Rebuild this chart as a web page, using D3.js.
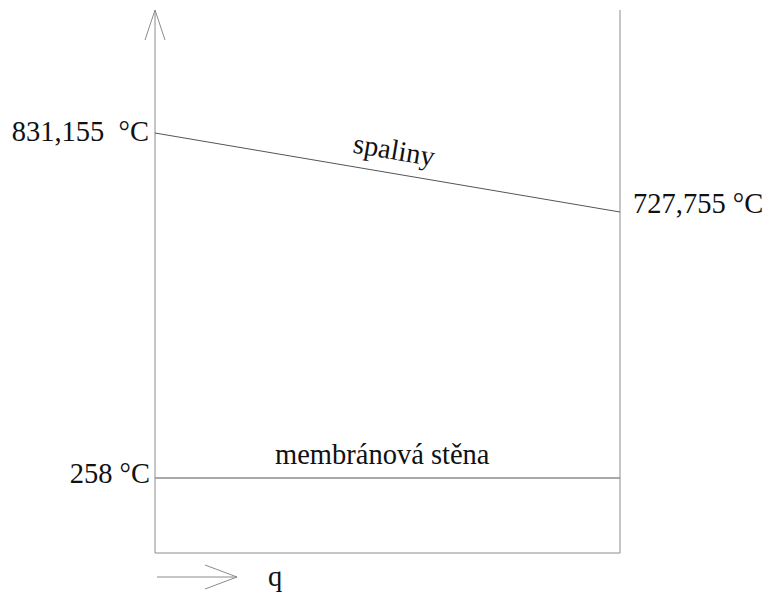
<!DOCTYPE html>
<html>
<head>
<meta charset="utf-8">
<script src="https://cdn.jsdelivr.net/npm/d3@7"></script>
<style>
  body { margin: 0; background: #fff; }
</style>
</head>
<body>
<div class="canvas"></div>
<script>
'use strict';

// temperatures along the heat flow q (0 = wall side, 1 = far side)
var flowPos = [0, 1];
var gasTemps = [831.155, 727.755];
var wallTemps = [258, 258];
var gasLabels = ['831,155\u00a0 °C', '727,755 °C'];
var wallLabel = '258 °C';
var seriesNames = ['spaliny', 'membránová stěna'];
var flowLabel = 'q';

var width = 769, height = 594;

var svg = d3.select('.canvas').append('svg')
  .attr('width', width)
  .attr('height', height);

// schematic (not proportional) temperature axis
var x = d3.scaleLinear().domain([0, 1]).range([155, 620]);
var y = d3.scaleLinear().domain([200, 258, 727.755, 831.155, 900]).range([553, 478, 212, 133, 10]);

var lineColor = '#8c8c8c';

function label(sel) {
  return sel
    .style('font-family', '"Liberation Serif"')
    .style('font-size', '28.5px')
    .style('fill', '#111');
}

// frame: left axis, right line, bottom line
svg.append('line')
  .attr('x1', x(0)).attr('y1', y(200))
  .attr('x2', x(0)).attr('y2', y(900))
  .style('stroke', lineColor);
svg.append('line')
  .attr('x1', x(1)).attr('y1', y(200))
  .attr('x2', x(1)).attr('y2', y(900))
  .style('stroke', lineColor);
svg.append('line')
  .attr('x1', x(0)).attr('y1', y(200))
  .attr('x2', x(1)).attr('y2', y(200))
  .style('stroke', lineColor);

// arrow head on the left axis
svg.append('path')
  .attr('d', 'M' + (x(0) - 10) + ',' + (y(900) + 30) + 'L' + x(0) + ',' + y(900) + 'L' + (x(0) + 10) + ',' + (y(900) + 30))
  .style('fill', 'none')
  .style('stroke', lineColor);

var line = d3.line()
  .x(function(d) { return x(d[0]); })
  .y(function(d) { return y(d[1]); });

svg.append('path')
  .datum(d3.zip(flowPos, gasTemps))
  .attr('d', line)
  .style('fill', 'none')
  .style('stroke', '#555');

svg.append('path')
  .datum(d3.zip(flowPos, wallTemps))
  .attr('d', line)
  .style('fill', 'none')
  .style('stroke', lineColor)
  .style('stroke-width', 1.5);

// end labels
svg.append('text')
  .attr('x', x(0) - 6).attr('y', y(gasTemps[0]) + 8)
  .attr('text-anchor', 'end')
  .call(label)
  .text(gasLabels[0]);
svg.append('text')
  .attr('x', x(1) + 13).attr('y', y(gasTemps[1]) + 1)
  .call(label)
  .text(gasLabels[1]);
svg.append('text')
  .attr('x', x(0) - 5).attr('y', y(wallTemps[0]) + 5)
  .attr('text-anchor', 'end')
  .call(label)
  .text(wallLabel);

// series names
var angle = Math.atan2(y(gasTemps[1]) - y(gasTemps[0]), x(1) - x(0)) * 180 / Math.PI;
var t = (352 - x(0)) / (x(1) - x(0));
var sy = y(gasTemps[0]) + (y(gasTemps[1]) - y(gasTemps[0])) * t - 14;
svg.append('text')
  .attr('transform', 'translate(' + x(t) + ',' + sy + ') rotate(' + angle + ')')
  .call(label)
  .text(seriesNames[0]);
svg.append('text')
  .attr('x', 275).attr('y', y(wallTemps[0]) - 14)
  .call(label)
  .text(seriesNames[1]);

// heat flow arrow
var ay = 577;
svg.append('line')
  .attr('x1', 157).attr('y1', ay)
  .attr('x2', 237).attr('y2', ay)
  .style('stroke', lineColor);
svg.append('path')
  .attr('d', 'M205,' + (ay - 12) + 'L237,' + ay + 'L205,' + (ay + 12))
  .style('fill', 'none')
  .style('stroke', lineColor);
svg.append('text')
  .attr('x', 268).attr('y', 586)
  .call(label)
  .text(flowLabel);
</script>
</body>
</html>
